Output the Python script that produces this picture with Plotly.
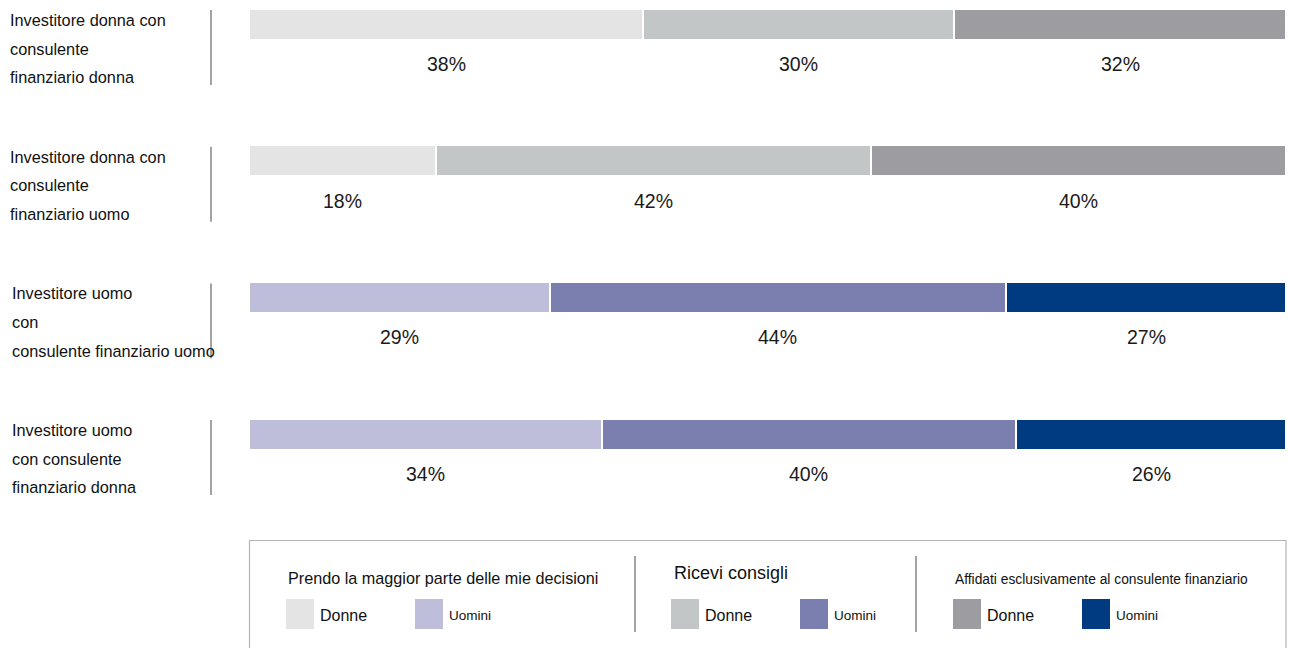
import plotly.graph_objects as go

W, H = 1289, 648

categories = [
    ["Investitore donna con", "consulente", "finanziario donna"],
    ["Investitore donna con", "consulente", "finanziario uomo"],
    ["Investitore uomo", "con", "consulente finanziario uomo"],
    ["Investitore uomo", "con consulente", "finanziario donna"],
]
decido = [38, 18, 29, 34]
consigli = [30, 42, 44, 40]
affidati = [32, 40, 27, 26]

colors_donne = ["#e4e4e5", "#c2c6c6", "#9d9ca0"]
colors_uomini = ["#bebdda", "#7a7fb0", "#003a80"]
row_gender = ["D", "D", "U", "U"]

legend_titles = ["Prendo la maggior parte delle mie decisioni", "Ricevi consigli",
                 "Affidati esclusivamente al consulente finanziario"]
legend_labels = ["Donne", "Uomini"]

FONT = "Liberation Sans, Arial, Helvetica, sans-serif"

def px(x):
    return x / W

def py(y):
    return 1 - y / H

row_y = [24 + i * 136.7 for i in range(len(categories))]

fig = go.Figure()
series = [decido, consigli, affidati]
for k, vals in enumerate(series):
    cols = [(colors_donne if g == "D" else colors_uomini)[k] for g in row_gender]
    fig.add_trace(go.Bar(
        x=vals, y=row_y, orientation="h", width=31,
        marker=dict(color=cols, line=dict(color="white", width=2)),
        showlegend=False, hoverinfo="x",
    ))

annotations = []
shapes = []
# percentage labels
for i in range(len(categories)):
    cum = 0
    for vals in series:
        v = vals[i]
        annotations.append(dict(x=cum + v / 2, y=row_y[i] + 40, xref="x", yref="y",
                                text=f"{v}%", showarrow=False,
                                font=dict(family=FONT, size=19.5, color="#1a1a1a")))
        cum += v

# row labels and separators
label_x = [8, 8, 10, 10]
for i, lines in enumerate(categories):
    top = row_y[i] - 4
    for j, line in enumerate(lines):
        annotations.append(dict(x=px(label_x[i]), y=py(top + j * 28.7), xref="paper", yref="paper",
                                text=line, showarrow=False, xanchor="left", yanchor="middle",
                                font=dict(family=FONT, size=16.3, color="#111")))
    shapes.append(dict(type="line", xref="paper", yref="paper",
                       x0=px(211), x1=px(211), y0=py(row_y[i] - 14), y1=py(row_y[i] + 61),
                       line=dict(color="#666", width=1.2)))

# legend box
shapes.append(dict(type="rect", xref="paper", yref="paper",
                   x0=px(249.5), x1=px(1286), y0=py(540.5), y1=py(660),
                   line=dict(color="#b5b5b5", width=1.2), fillcolor="rgba(0,0,0,0)"))
for sx in [635, 916]:
    shapes.append(dict(type="line", xref="paper", yref="paper",
                       x0=px(sx), x1=px(sx), y0=py(556), y1=py(632),
                       line=dict(color="#666", width=1.2)))

group_x = [286, 671, 953]
title_specs = [(286, 578, 16.2), (672, 573, 18), (953, 579, 13.8)]
for g in range(3):
    tx, ty, ts = title_specs[g]
    annotations.append(dict(x=px(tx), y=py(ty), xref="paper", yref="paper", text=legend_titles[g],
                            showarrow=False, xanchor="left", yanchor="middle",
                            font=dict(family=FONT, size=ts, color="#111")))
    for s, lab in enumerate(legend_labels):
        x0 = group_x[g] + s * 129
        col = (colors_donne if s == 0 else colors_uomini)[g]
        shapes.append(dict(type="rect", xref="paper", yref="paper",
                           x0=px(x0), x1=px(x0 + 28), y0=py(599), y1=py(629),
                           line=dict(width=0), fillcolor=col))
        annotations.append(dict(x=px(x0 + 32), y=py(615), xref="paper", yref="paper",
                                text=lab, showarrow=False, xanchor="left", yanchor="middle",
                                font=dict(family=FONT, size=16 if s == 0 else 13.5, color="#111")))

fig.update_layout(
    width=W, height=H, margin=dict(l=0, r=0, t=0, b=0),
    paper_bgcolor="white", plot_bgcolor="white",
    barmode="stack", bargap=0,
    xaxis=dict(domain=[px(249), px(1286)], range=[0, 100], visible=False, fixedrange=True),
    yaxis=dict(domain=[0, 1], range=[H, 0], visible=False, fixedrange=True),
    annotations=annotations, shapes=shapes,
)

fig.write_html("out.html", config={"displayModeBar": False},
               post_script="document.body.style.margin='0';document.body.style.overflow='hidden';")
